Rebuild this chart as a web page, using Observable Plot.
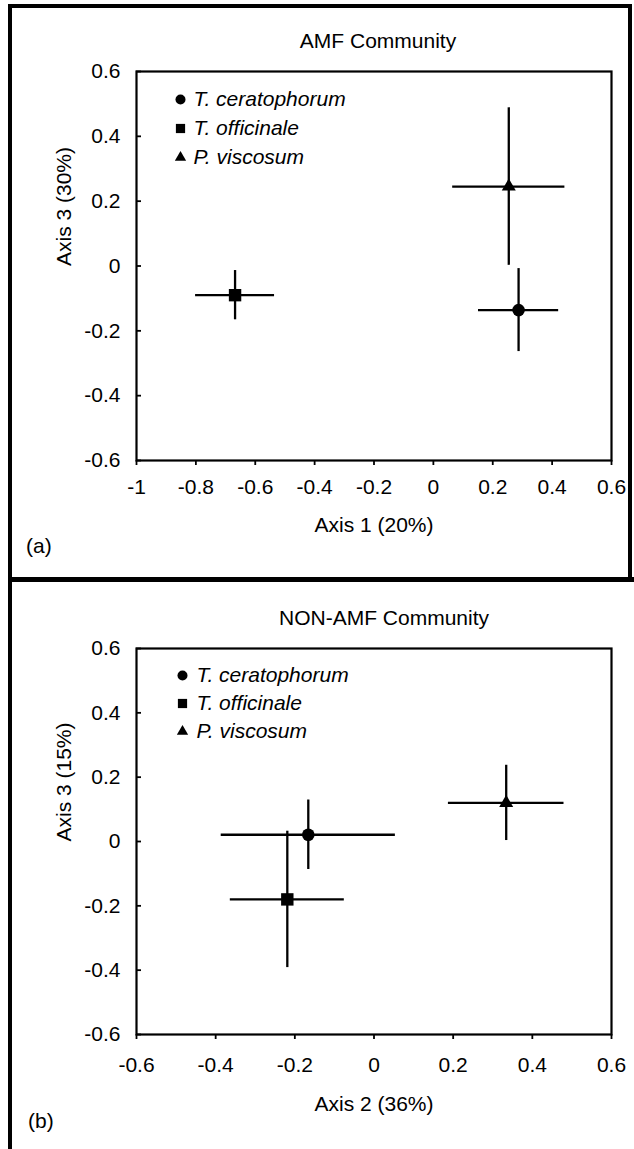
<!DOCTYPE html>
<html>
<head>
<meta charset="utf-8">
<script src="https://cdn.jsdelivr.net/npm/d3@7"></script>
<script src="https://cdn.jsdelivr.net/npm/@observablehq/plot@0.6"></script>
<style>
  html, body { margin: 0; padding: 0; background: #fff; }
  #root { position: relative; width: 634px; height: 1149px; overflow: hidden; background: #fff;
          font-family: "Liberation Sans", Arial, sans-serif; }
  .ln { position: absolute; background: #000; z-index: 5; }
  .txt { position: absolute; font-size: 21px; line-height: 20px; white-space: nowrap; color: #000; z-index: 6; }
  .plotbox { position: absolute; left: 0; }
</style>
</head>
<body>
<div id="root">
  <div id="panelA" class="plotbox" style="top:0px"></div>
  <div id="panelB" class="plotbox" style="top:577px"></div>
  <div class="ln" style="left:7.5px; top:4px; width:4px; height:1145px"></div>
  <div class="ln" style="left:7.5px; top:4px; width:624.5px; height:4px"></div>
  <div class="ln" style="left:628px; top:4px; width:4px; height:578px"></div>
  <div class="ln" style="left:7.5px; top:577px; width:626.5px; height:5px"></div>
  <div class="txt" style="left:378px; top:30.7px; transform:translateX(-50%)">AMF Community</div>
  <div class="txt" style="left:384px; top:607.7px; transform:translateX(-50%)">NON-AMF Community</div>
  <div class="txt" style="left:26px; top:535.7px">(a)</div>
  <div class="txt" style="left:28px; top:1110.7px">(b)</div>
</div>
<script>
// ---- data ----
const species = ["T. ceratophorum", "T. officinale", "P. viscosum"];
const symbols = ["circle", "square", "triangle"];

// Panel (a): AMF community, Axis 1 vs Axis 3 (mean ± SE)
const amfX  = [0.287, -0.668, 0.254];
const amfY  = [-0.136, -0.090, 0.245];
const amfEX = [0.135, 0.133, 0.189];
const amfEY = [0.128, 0.076, 0.243];

// Panel (b): NON-AMF community, Axis 2 vs Axis 3 (mean ± SE)
const nonX  = [-0.166, -0.219, 0.334];
const nonY  = [0.021, -0.180, 0.120];
const nonEX = [0.220, 0.144, 0.146];
const nonEY = [0.108, 0.212, 0.117];

const xTicksA = [-1, -0.8, -0.6, -0.4, -0.2, 0, 0.2, 0.4, 0.6];
const xTicksB = [-0.6, -0.4, -0.2, 0, 0.2, 0.4, 0.6];
const yTicks  = [-0.6, -0.4, -0.2, 0, 0.2, 0.4, 0.6];

// ---- styling (not data) ----
const markerR = {circle: 6.3, square: 7, triangle: 5.2};
const legendR = {circle: 5, square: 5.2, triangle: 4.2};
const FONT = '"Liberation Sans", Arial, sans-serif';
const FS = 21;

function rows(xs, ys, exs, eys) {
  return species.map((s, i) => ({
    species: s, symbol: symbols[i],
    x: xs[i], y: ys[i],
    x1: xs[i] - exs[i], x2: xs[i] + exs[i],
    y1: ys[i] - eys[i], y2: ys[i] + eys[i]
  }));
}

function panel({data, xDomain, xTicks, xLabel, yLabel, height, mb, tickPad, xLabelDy, legendDx, legendTextDx, legendDy}) {
  const ML = 136, MR = 23, MT = 71;
  const width = 634;
  const frameW = width - ML - MR;
  const marks = [
    Plot.axisX({ticks: xTicks, tickSize: 5, tickPadding: tickPad, strokeWidth: 1.8,
                tickFormat: d => String(d), label: null}),
    Plot.axisY({ticks: yTicks, tickSize: 0, tickPadding: 16,
                tickFormat: d => String(d), label: null}),
    Plot.tickY(yTicks, {y: d => d, insetRight: frameW - 5, strokeWidth: 1.8}),
    Plot.frame({strokeWidth: 2.2}),
    Plot.ruleY(data, {y: "y", x1: "x1", x2: "x2", stroke: "#000", strokeWidth: 2.3}),
    Plot.ruleX(data, {x: "x", y1: "y1", y2: "y2", stroke: "#000", strokeWidth: 2.3}),
    Plot.dot(data, {x: "x", y: "y", symbol: "symbol", fill: "#000", stroke: "none",
                    r: d => markerR[d.symbol]}),
    Plot.text([xLabel], {frameAnchor: "bottom", dy: xLabelDy, lineAnchor: "bottom",
                         fontSize: FS, fill: "#000"}),
    Plot.text([yLabel], {frameAnchor: "left", dx: -72.1, rotate: -90, lineAnchor: "middle",
                         fontSize: FS, fill: "#000"})
  ];
  species.forEach((s, i) => {
    marks.push(Plot.dot([s], {frameAnchor: "top-left", dx: legendDx, dy: legendDy[i],
                              symbol: () => symbols[i], fill: "#000", stroke: "none",
                              r: legendR[symbols[i]]}));
    marks.push(Plot.text([s], {frameAnchor: "top-left", dx: legendTextDx, dy: legendDy[i],
                               text: d => d, textAnchor: "start", lineAnchor: "middle",
                               fontSize: FS, fontStyle: "italic", fill: "#000"}));
  });
  return Plot.plot({
    width, height,
    marginLeft: ML, marginRight: MR, marginTop: MT, marginBottom: mb,
    style: {fontFamily: FONT, fontSize: FS + "px", background: "transparent", color: "#000", overflow: "visible"},
    x: {domain: xDomain},
    y: {domain: [-0.6, 0.6]},
    symbol: {type: "identity"},
    r: {type: "identity"},
    marks
  });
}

document.getElementById("panelA").appendChild(panel({
  data: rows(amfX, amfY, amfEX, amfEY),
  xDomain: [-1, 0.6], xTicks: xTicksA,
  xLabel: "Axis 1 (20%)", yLabel: "Axis 3 (30%)",
  height: 580, mb: 120, tickPad: 14, xLabelDy: 71,
  legendDx: 44, legendTextDx: 57, legendDy: [28, 57, 86]
}));

document.getElementById("panelB").appendChild(panel({
  data: rows(nonX, nonY, nonEX, nonEY),
  xDomain: [-0.6, 0.6], xTicks: xTicksB,
  xLabel: "Axis 2 (36%)", yLabel: "Axis 3 (15%)",
  height: 572, mb: 115, tickPad: 18, xLabelDy: 76,
  legendDx: 46, legendTextDx: 60, legendDy: [27, 55, 83]
}));
</script>
</body>
</html>
